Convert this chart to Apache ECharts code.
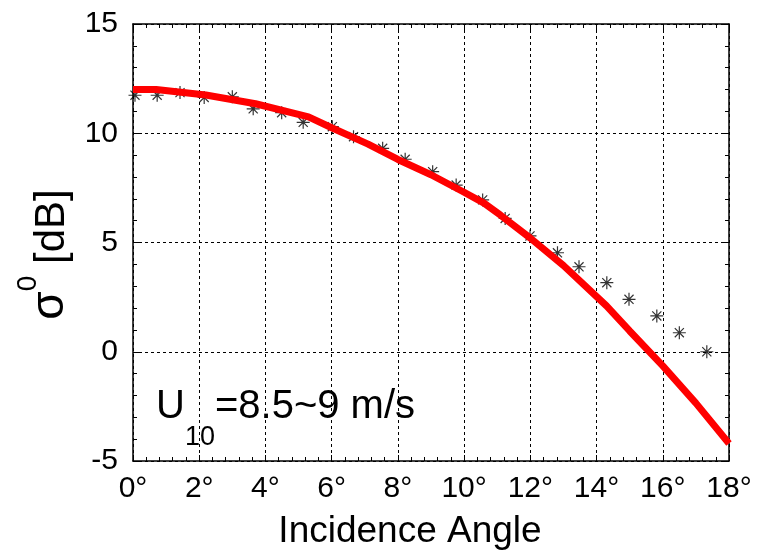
<!DOCTYPE html>
<html>
<head>
<meta charset="utf-8">
<script src="https://cdn.jsdelivr.net/npm/echarts@6/dist/echarts.min.js"></script>
<style>
  html, body { margin: 0; padding: 0; background: #fff; }
  #chart { width: 760px; height: 555px; }
</style>
</head>
<body>
<div id="chart"></div>
<script>
// model curve (red line)
var modelAngle = [0, 0.7, 2.2, 3.7, 5.3, 6.0, 7.1, 8.0, 9.0, 10.0, 10.6, 11.1, 12.0, 13.0, 14.3, 15.0, 16.0, 17.0, 18.0];
var modelSigma = [12.0, 12.0, 11.75, 11.35, 10.75, 10.25, 9.5, 8.8, 8.1, 7.3, 6.8, 6.25, 5.2, 3.95, 2.1, 0.95, -0.65, -2.35, -4.2];

// measured points (stars)
var obsAngle = [0.06, 0.73, 1.42, 2.15, 3.0, 3.63, 4.49, 5.14, 6.02, 6.66, 7.54, 8.22, 9.05, 9.76, 10.56, 11.24, 11.99, 12.82, 13.47, 14.31, 14.98, 15.82, 16.5, 17.33];
var obsSigma = [11.74, 11.74, 11.86, 11.64, 11.67, 11.12, 10.94, 10.5, 10.3, 9.84, 9.31, 8.81, 8.24, 7.63, 6.95, 6.1, 5.3, 4.53, 3.89, 3.16, 2.4, 1.64, 0.87, 0.0];

var xTicks = { min: 0, max: 18, interval: 2 };
var yTicks = { min: -5, max: 15, interval: 5 };

var FONT = 'Liberation Sans, Arial, sans-serif';

function pairs(xs, ys) {
	var out = [];
	for (var i = 0; i < xs.length; i++) out.push([xs[i], ys[i]]);
	return out;
}

var chart = echarts.init(document.getElementById('chart'));

var gridLine = { show: true, lineStyle: { color: '#000', width: 1, type: [3, 3] } };
var boxLine = { show: true, onZero: false, lineStyle: { color: '#000', width: 1.5 } };
var tickIn = { show: true, inside: true, length: 6, lineStyle: { color: '#000', width: 1 } };
var minorIn = { show: true, splitNumber: 5, length: 4, lineStyle: { color: '#000', width: 1 } };

chart.setOption({
	animation: false,
	backgroundColor: '#fff',
	grid: { left: 133, right: 31, top: 24, bottom: 94, containLabel: false },
	xAxis: [{
		type: 'value',
		min: xTicks.min, max: xTicks.max, interval: xTicks.interval,
		position: 'bottom',
		axisLine: boxLine,
		axisTick: tickIn,
		minorTick: minorIn,
		splitLine: gridLine,
		axisLabel: { formatter: '{value}°', color: '#000', fontSize: 30, fontFamily: FONT, margin: 13 },
		name: 'Incidence Angle',
		nameLocation: 'middle',
		nameGap: 52,
		nameTextStyle: { color: '#000', fontSize: 37, fontFamily: FONT, padding: [0, 42, 0, 0] }
	}, {
		type: 'value',
		min: xTicks.min, max: xTicks.max, interval: xTicks.interval,
		position: 'top',
		axisLine: boxLine,
		axisTick: tickIn,
		minorTick: minorIn,
		splitLine: { show: false },
		axisLabel: { show: false }
	}],
	yAxis: [{
		type: 'value',
		min: yTicks.min, max: yTicks.max, interval: yTicks.interval,
		position: 'left',
		axisLine: boxLine,
		axisTick: tickIn,
		minorTick: minorIn,
		splitLine: gridLine,
		axisLabel: { color: '#000', fontSize: 30, fontFamily: FONT, margin: 15 },
		name: '{s|σ}{sup|0}{n| [dB]}',
		nameLocation: 'middle',
		nameGap: 57,
		nameTextStyle: {
			color: '#000',
			fontFamily: FONT,
			padding: [0, 24, 0, 0],
			rich: {
				s: { fontSize: 46, lineHeight: 46, fontFamily: FONT, color: '#000', verticalAlign: 'bottom' },
				sup: { fontSize: 28, lineHeight: 28, fontFamily: FONT, color: '#000', verticalAlign: 'bottom', padding: [0, 0, 31, 0] },
				n: { fontSize: 42, lineHeight: 46, fontFamily: FONT, color: '#000', verticalAlign: 'bottom' }
			}
		}
	}, {
		type: 'value',
		min: yTicks.min, max: yTicks.max, interval: yTicks.interval,
		position: 'right',
		axisLine: boxLine,
		axisTick: tickIn,
		minorTick: minorIn,
		splitLine: { show: false },
		axisLabel: { show: false }
	}],
	graphic: [{
		type: 'text',
		left: 156,
		top: 387,
		style: {
			text: '{u|U}{sub|10}{u|=8.5~9 m/s}',
			fill: '#000',
			rich: {
				u: { fontSize: 40, lineHeight: 40, fontFamily: FONT, fill: '#000', verticalAlign: 'top' },
				sub: { fontSize: 27, lineHeight: 27, fontFamily: FONT, fill: '#000', verticalAlign: 'top', padding: [37, 0, 0, 0] }
			}
		}
	}],
	series: [{
		name: 'measured',
		type: 'scatter',
		xAxisIndex: 0, yAxisIndex: 0,
		data: pairs(obsAngle, obsSigma),
		symbol: 'path://M0,-10L0,10M-10,0L10,0M-7,-7L7,7M-7,7L7,-7',
		symbolSize: 13,
		itemStyle: { color: 'transparent', borderColor: '#000', borderWidth: 1.2 },
		z: 2
	}, {
		name: 'model',
		type: 'line',
		xAxisIndex: 0, yAxisIndex: 0,
		data: pairs(modelAngle, modelSigma),
		symbol: 'none',
		lineStyle: { color: '#ff0000', width: 7 },
		z: 3
	}]
});
</script>
</body>
</html>
